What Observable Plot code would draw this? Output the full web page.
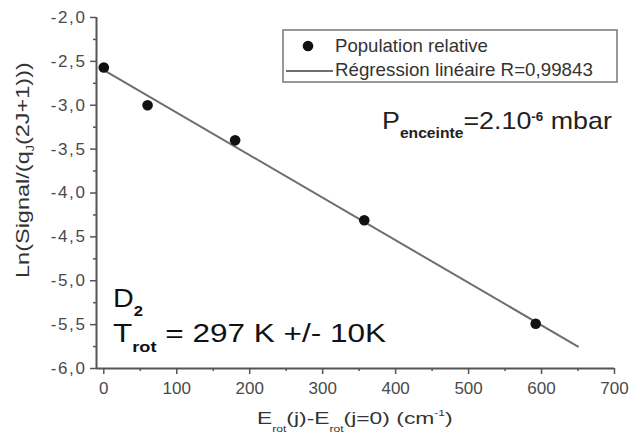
<!DOCTYPE html>
<html>
<head>
<meta charset="utf-8">
<script src="https://cdn.jsdelivr.net/npm/d3@7"></script>
<script src="https://cdn.jsdelivr.net/npm/@observablehq/plot@0.6"></script>
<style>
  html, body { margin: 0; padding: 0; background: #fff; }
  #wrap { position: relative; width: 643px; height: 439px; }
</style>
</head>
<body>
<div id="wrap"></div>
<script>
// ---- data ----
const energies = [0, 60, 180, 357, 592];            // E_rot(j)-E_rot(j=0), cm^-1
const lnPop    = [-2.57, -3.00, -3.40, -4.31, -5.49];
const regX = [0, 650];                                // regression line ends
const regY = [-2.60, -5.75];
const xTicks = [0, 100, 200, 300, 400, 500, 600, 700];
const xMinor = [50, 150, 250, 350, 450, 550, 650];
const yTicks = [-6, -5.5, -5, -4.5, -4, -3.5, -3, -2.5, -2];
const yMinor = [-5.75, -5.25, -4.75, -4.25, -3.75, -3.25, -2.75, -2.25];

const FONT = "'Liberation Sans', Arial, sans-serif";
const points = energies.map((e, i) => ({e, v: lnPop[i]}));
const reg = regX.map((e, i) => ({e, v: regY[i]}));
const fmt = d => d.toFixed(1).replace(".", ",");

const chart = Plot.plot({
  width: 643, height: 439,
  marginLeft: 96, marginRight: 29, marginTop: 17, marginBottom: 71,
  style: {fontFamily: FONT, fontSize: "17px", color: "#444", background: "#fff"},
  x: {domain: [-10, 700], label: null},
  y: {domain: [-6, -2], label: null},
  marks: [
    Plot.axisX(xMinor, {tickSize: 3, tickFormat: () => "", stroke: "#555", strokeWidth: 1.5}),
    Plot.axisX(xTicks, {tickSize: 6, tickPadding: 7, tickFormat: d => String(d), stroke: "#555", strokeWidth: 1.5, fill: "#4a4a4a"}),
    Plot.axisY(yMinor, {tickSize: 3, tickFormat: () => "", stroke: "#555", strokeWidth: 1.5}),
    Plot.axisY(yTicks, {tickSize: 6, tickPadding: 4, tickFormat: fmt, stroke: "#555", strokeWidth: 1.5, fill: "#4a4a4a"}),
    Plot.ruleY([-6], {stroke: "#555", strokeWidth: 2}),
    Plot.ruleX([-10], {stroke: "#555", strokeWidth: 2}),
    Plot.line(reg, {x: "e", y: "v", stroke: "#6e6e6e", strokeWidth: 2}),
    Plot.dot(points, {x: "e", y: "v", r: 5.3, fill: "#111", stroke: "none"})
  ]
});
document.getElementById("wrap").appendChild(chart);

const svg = d3.select(chart);
// slightly wider y tick labels, as in the reference
svg.selectAll('g[aria-label="y-axis tick label"] text').attr("letter-spacing", "1.6px");

// ---- annotations (real SVG text) ----
const g = svg.append("g").attr("font-family", FONT).attr("fill", "#222").attr("text-anchor", "start");
function rich(parent, x, y, parts, attrs = {}) {
  const t = parent.append("text").attr("x", x).attr("y", y).attr("text-anchor", "start");
  for (const [k, v] of Object.entries(attrs)) t.attr(k, v);
  let cur = 0;
  for (const p of parts) {
    const off = p.off || 0;
    const s = t.append("tspan").attr("dy", off - cur).text(p.t);
    if (p.size) s.attr("font-size", p.size);
    if (p.bold) s.attr("font-weight", "bold");
    cur = off;
  }
  return t;
}
// stretch a text horizontally so it spans [left, left+width]
function fit(t, left, width) {
  const b = t.node().getBBox();
  const sx = width / b.width;
  t.attr("transform", `translate(${left},0) scale(${sx},1) translate(${-b.x},0)`);
}

// x axis title
fit(rich(g, 300, 424, [
  {t: "E", size: 17}, {t: "rot", size: 9, off: 8}, {t: "(j)-E", size: 17},
  {t: "rot", size: 9, off: 8}, {t: "(j=0) (cm", size: 17}, {t: "-1", size: 9, off: -8}, {t: ")", size: 17}
], {fill: "#333"}), 257, 196);

// y axis title (rotated)
const yg = g.append("g").attr("transform", "translate(29,170) rotate(-90)");
const yl = rich(yg, 0, 0, [
  {t: "Ln(Signal/(q", size: 19}, {t: "J", size: 10, off: 5}, {t: "(2J+1)))", size: 19}
], {fill: "#333"});
fit(yl, -108, 216);

// legend
const leg = g.append("g");
leg.append("rect").attr("x", 283).attr("y", 30).attr("width", 334).attr("height", 52)
  .attr("fill", "#fff").attr("stroke", "#777").attr("stroke-width", 1.5);
leg.append("circle").attr("cx", 308).attr("cy", 46).attr("r", 5.3).attr("fill", "#111");
leg.append("line").attr("x1", 286).attr("x2", 333).attr("y1", 71).attr("y2", 71)
  .attr("stroke", "#6e6e6e").attr("stroke-width", 2);
fit(rich(leg, 335, 52, [{t: "Population relative", size: 17.5}], {fill: "#333"}), 335, 153);
fit(rich(leg, 335, 76, [{t: "Régression linéaire R=0,99843", size: 17.5}], {fill: "#333"}), 335, 258);

// pressure
fit(rich(g, 382, 129, [
  {t: "P", size: 24}, {t: "enceinte", size: 14, bold: true, off: 9},
  {t: "=2.10", size: 24}, {t: "-6", size: 12, bold: true, off: -8}, {t: " mbar", size: 24}
], {fill: "#222"}), 382, 230);

// D2 / Trot
fit(rich(g, 113, 307, [{t: "D", size: 26}, {t: "2", size: 15, bold: true, off: 9}], {fill: "#111"}), 113, 30);
fit(rich(g, 113, 342, [
  {t: "T", size: 26}, {t: "rot", size: 15, bold: true, off: 10}, {t: " = 297 K +/- 10K", size: 26}
], {fill: "#111"}), 113, 274);
</script>
</body>
</html>
